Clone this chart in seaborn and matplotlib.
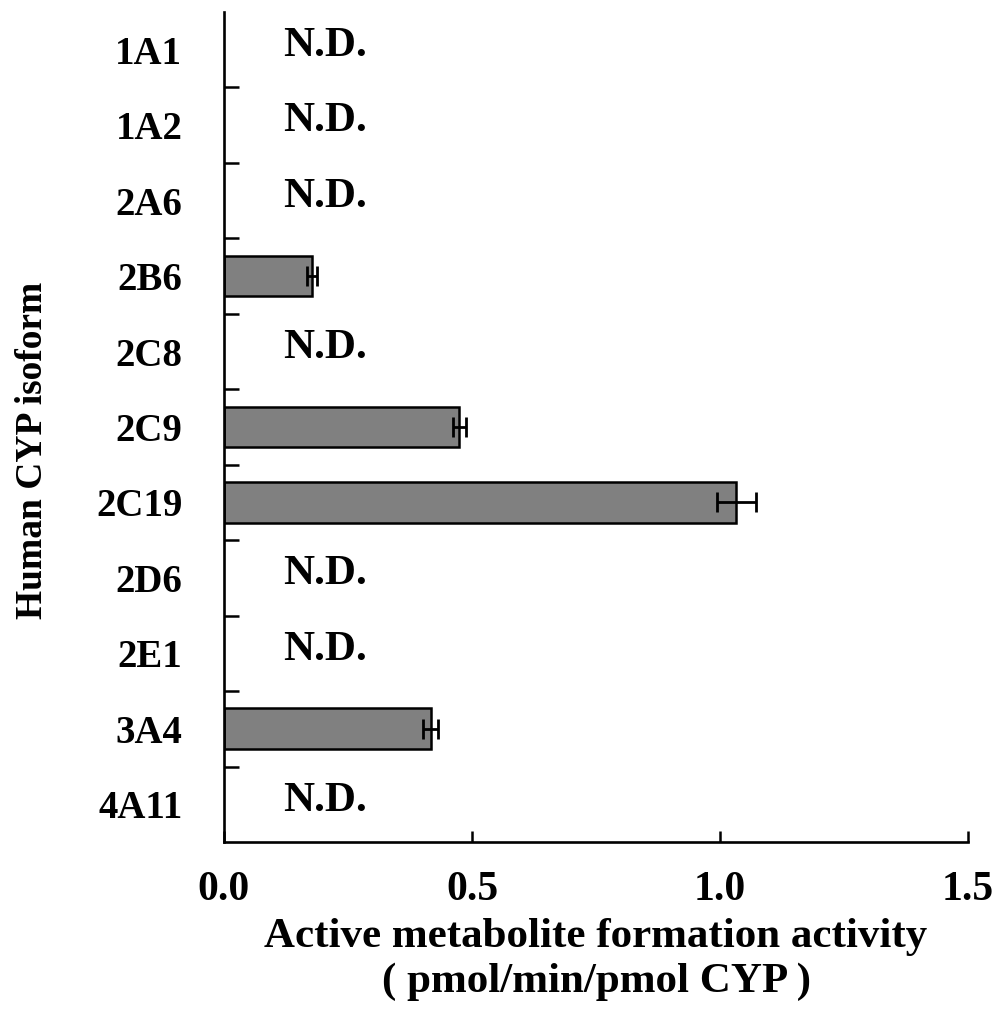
import numpy as np
import pandas as pd
import matplotlib
matplotlib.use("Agg")
import matplotlib.pyplot as plt
import seaborn as sns

# CYP isoforms, top to bottom
isoforms = ["1A1", "1A2", "2A6", "2B6", "2C8", "2C9", "2C19", "2D6", "2E1", "3A4", "4A11"]
# activity (pmol/min/pmol CYP); None = not detected
activity = [None, None, None, 0.177, None, 0.474, 1.033, None, None, 0.417, None]
activity_err = [None, None, None, 0.010, None, 0.013, 0.040, None, None, 0.015, None]

df = pd.DataFrame({"isoform": isoforms, "activity": activity, "err": activity_err})
measured = df.dropna(subset=["activity"])

sns.set_style("white")
plt.rcParams["font.family"] = ["Liberation Serif", "DejaVu Serif"]
plt.rcParams["font.weight"] = "bold"
plt.rcParams["text.color"] = "black"
plt.rcParams["axes.labelcolor"] = "black"
plt.rcParams["xtick.color"] = "black"
plt.rcParams["ytick.color"] = "black"

fig = plt.figure(figsize=(9.98, 10.15), dpi=100)
ax = fig.add_axes([0.2244, 0.1704, 0.7456, 0.8178])

sns.barplot(data=measured, x="activity", y="isoform", order=isoforms, orient="h",
            color="#808080", saturation=1, width=0.54, edgecolor="black",
            linewidth=1.8, errorbar=None, ax=ax)

ypos = [isoforms.index(i) for i in measured["isoform"]]
ax.errorbar(measured["activity"], ypos, xerr=measured["err"], fmt="none",
            ecolor="black", elinewidth=2, capsize=7, capthick=2)

for i, v in enumerate(activity):
    if v is None or (isinstance(v, float) and np.isnan(v)):
        ax.text(0.119, i - 0.05, "N.D.", fontsize=31, fontweight="bold",
                ha="left", va="center")

ax.set_xlim(0, 1.5)
ax.set_ylim(len(isoforms) - 0.5, -0.5)
ax.set_xticks([0.0, 0.5, 1.0, 1.5])
ax.set_xticklabels(["0.0", "0.5", "1.0", "1.5"], fontsize=30, fontweight="bold")
ax.set_yticks(range(len(isoforms)))
ax.set_yticklabels(isoforms, fontsize=28, fontweight="bold")
ax.set_yticks(np.arange(0.5, len(isoforms) - 1, 1.0), minor=True)

ax.tick_params(axis="x", bottom=True, direction="in", length=8, width=1.8, pad=21)
ax.tick_params(axis="y", which="major", left=True, length=0, pad=30)
ax.tick_params(axis="y", which="minor", left=True, direction="in", length=11, width=1.8)

for s in ["top", "right"]:
    ax.spines[s].set_visible(False)
for s in ["left", "bottom"]:
    ax.spines[s].set_linewidth(1.9)
    ax.spines[s].set_color("black")

ax.set_xlabel("Active metabolite formation activity\n( pmol/min/pmol CYP )",
              fontsize=31, fontweight="bold", linespacing=1.25, labelpad=6)
ax.set_ylabel("Human CYP isoform", fontsize=27, fontweight="bold")
ax.yaxis.set_label_coords(-0.234, 0.472)

fig.savefig("out.png", dpi=100)
